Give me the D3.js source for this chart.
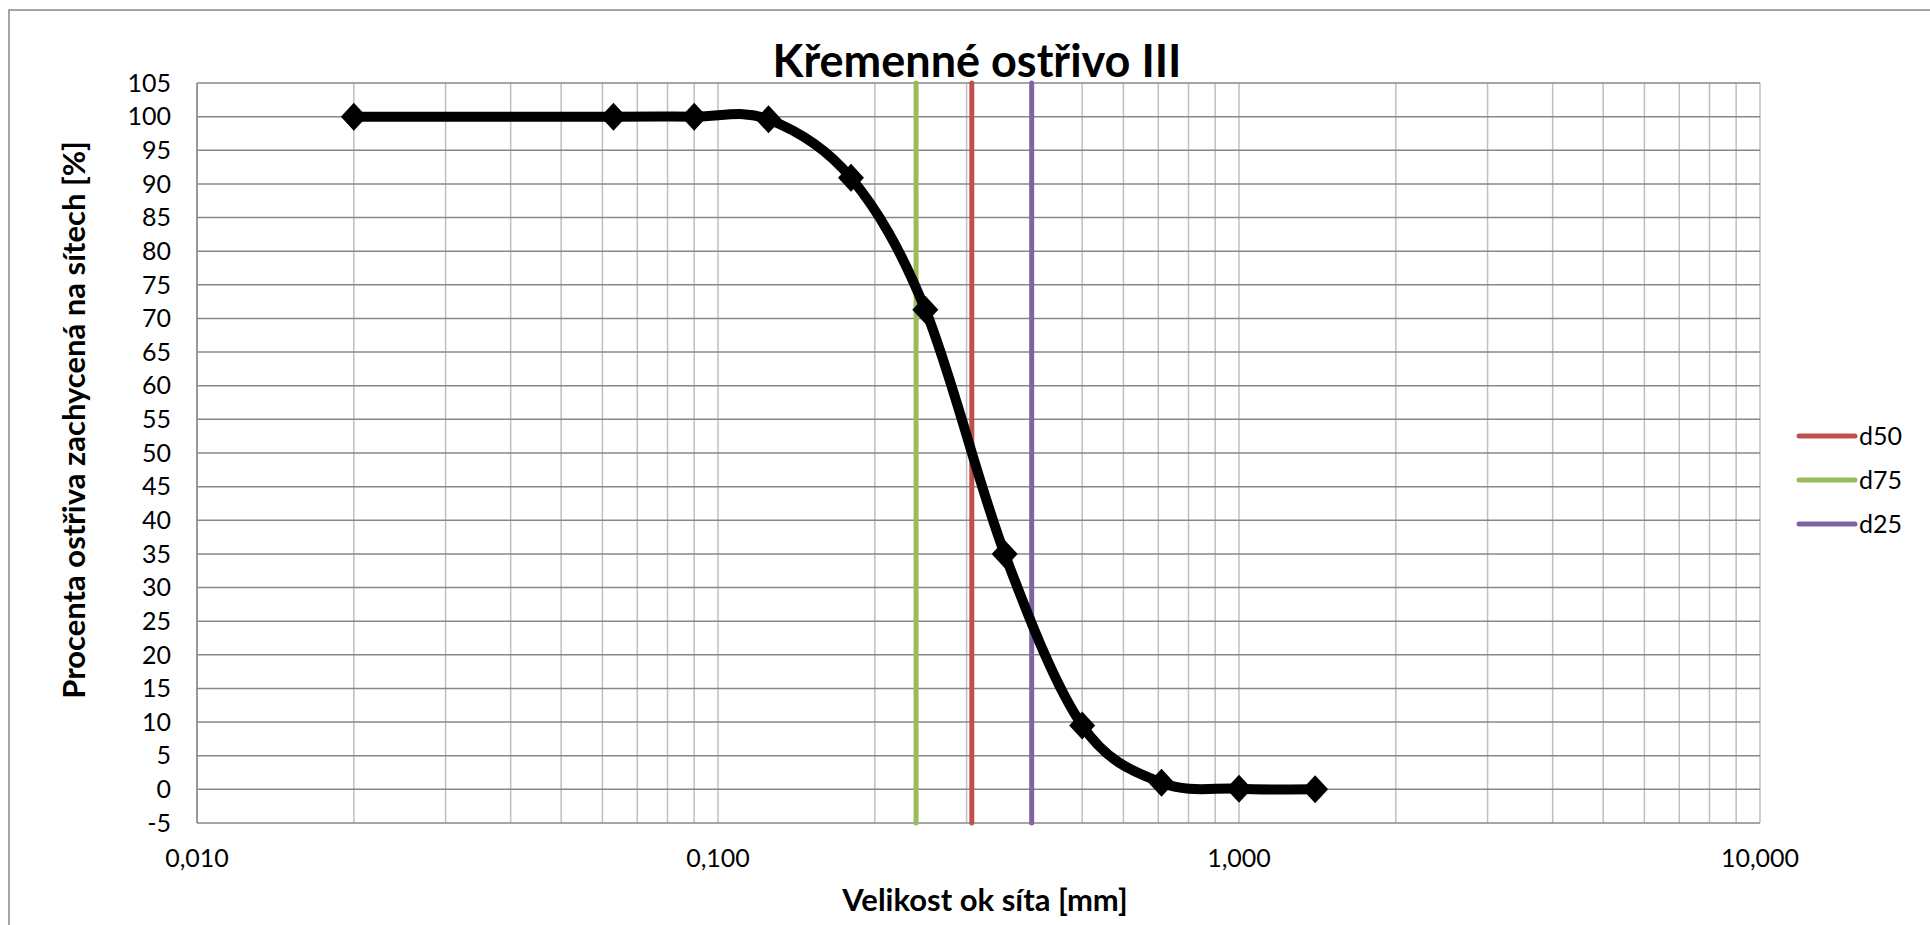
<!DOCTYPE html>
<html>
<head>
<meta charset="utf-8">
<script src="https://cdn.jsdelivr.net/npm/d3@7"></script>
<style>
  body { margin: 0; background: #fff; }
  svg { display: block; }
</style>
</head>
<body>
<div id="chart"></div>
<script>
// data
const sieveSizes = [0.02, 0.063, 0.09, 0.125, 0.18, 0.25, 0.355, 0.5, 0.71, 1.0, 1.4];
const retained = [100, 100, 100, 99.6, 90.9, 71.3, 35, 9.5, 1, 0.1, 0];

const dNames = ["d50", "d75", "d25"];
const dSizes = [0.307, 0.24, 0.40];
const dColors = ["#C0504D", "#9BBB59", "#8064A2"];

const xTicks = [0.01, 0.1, 1, 10];
const yTicks = d3.range(-5, 106, 5);

const W = 1930, H = 925;
const margin = {top: 83, right: 170, bottom: 102, left: 197};
const width = W - margin.left - margin.right;
const height = H - margin.top - margin.bottom;

const font = "Lato, 'Open Sans', sans-serif";

const svg = d3.select("#chart").append("svg")
  .attr("width", W)
  .attr("height", H);

// chart border (right and bottom edges fall off the picture)
svg.append("rect")
  .attr("x", 9).attr("y", 10)
  .attr("width", W).attr("height", H)
  .attr("fill", "none")
  .attr("stroke", "#868686")
  .attr("stroke-width", 1.5);

const g = svg.append("g")
  .attr("transform", `translate(${margin.left}, ${margin.top})`);

// scales
const x = d3.scaleLog().domain([0.01, 10]).range([0, width]);
const y = d3.scaleLinear().domain([-5, 105]).range([height, 0]);

// minor vertical gridlines (1..9 per decade)
const minor = [];
[0.01, 0.1, 1].forEach(dec => { for (let k = 1; k <= 9; k++) minor.push(dec * k); });
minor.push(10);

g.append("g")
  .selectAll("line")
  .data(minor)
  .join("line")
  .attr("x1", d => x(d)).attr("x2", d => x(d))
  .attr("y1", 0).attr("y2", height)
  .attr("stroke", "#bfbfbf")
  .attr("stroke-width", 1.5);

// horizontal gridlines
g.append("g")
  .selectAll("line")
  .data(yTicks)
  .join("line")
  .attr("x1", 0).attr("x2", width)
  .attr("y1", d => y(d)).attr("y2", d => y(d))
  .attr("stroke", "#878787")
  .attr("stroke-width", 1.5);

// left axis line
g.append("line")
  .attr("x1", 0).attr("x2", 0)
  .attr("y1", 0).attr("y2", height)
  .attr("stroke", "#878787")
  .attr("stroke-width", 1.5);

// y tick labels
g.append("g")
  .selectAll("text")
  .data(yTicks)
  .join("text")
  .attr("x", -26)
  .attr("y", d => y(d))
  .attr("dy", "0.35em")
  .attr("text-anchor", "end")
  .attr("font-family", font)
  .attr("font-size", "25px")
  .attr("fill", "#000")
  .text(d => d);

// x tick labels, czech decimal comma
const fmt = d3.format(".3f");
g.append("g")
  .selectAll("text")
  .data(xTicks)
  .join("text")
  .attr("x", d => x(d))
  .attr("y", height + 44)
  .attr("text-anchor", "middle")
  .attr("font-family", font)
  .attr("font-size", "25px")
  .attr("fill", "#000")
  .text(d => fmt(d).replace(".", ","));

// d50 / d75 / d25 vertical lines
g.append("g")
  .selectAll("line")
  .data(dSizes)
  .join("line")
  .attr("x1", d => x(d)).attr("x2", d => x(d))
  .attr("y1", y(105)).attr("y2", y(-5))
  .attr("stroke", (d, i) => dColors[i])
  .attr("stroke-width", 5)
  .attr("stroke-linecap", "round");

// smoothed grading curve
const pts = sieveSizes.map((s, i) => [x(s), y(retained[i])]);
g.append("path")
  .attr("d", d3.line().curve(d3.curveCatmullRom.alpha(0))(pts))
  .attr("fill", "none")
  .attr("stroke", "#000")
  .attr("stroke-width", 10)
  .attr("stroke-linejoin", "round");

// diamond markers
g.append("g")
  .selectAll("path")
  .data(pts)
  .join("path")
  .attr("transform", d => `translate(${d[0]}, ${d[1]})`)
  .attr("d", "M0,-14L13,0L0,14L-13,0Z")
  .attr("fill", "#000");

// title
svg.append("text")
  .attr("x", 977)
  .attr("y", 77)
  .attr("text-anchor", "middle")
  .attr("font-family", font)
  .attr("font-weight", "bold")
  .attr("font-size", "45px")
  .text("Křemenné ostřivo III");

// axis titles
svg.append("text")
  .attr("x", 985)
  .attr("y", 911)
  .attr("text-anchor", "middle")
  .attr("font-family", font)
  .attr("font-weight", "bold")
  .attr("font-size", "31px")
  .text("Velikost ok síta [mm]");

svg.append("text")
  .attr("transform", "translate(85, 420) rotate(-90)")
  .attr("text-anchor", "middle")
  .attr("font-family", font)
  .attr("font-weight", "bold")
  .attr("font-size", "31px")
  .text("Procenta ostřiva zachycená na sítech [%]");

// legend
const legend = svg.append("g")
  .selectAll("g")
  .data(dNames)
  .join("g")
  .attr("transform", (d, i) => `translate(1799, ${436 + i * 44})`);

legend.append("line")
  .attr("x1", 0).attr("x2", 56)
  .attr("stroke", (d, i) => dColors[i])
  .attr("stroke-width", 5)
  .attr("stroke-linecap", "round");

legend.append("text")
  .attr("x", 60)
  .attr("dy", "0.35em")
  .attr("font-family", font)
  .attr("font-size", "25px")
  .text(d => d);
</script>
</body>
</html>
